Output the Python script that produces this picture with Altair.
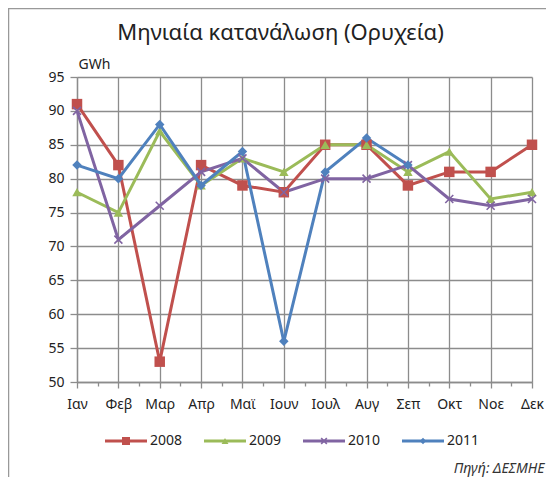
import altair as alt
import pandas as pd

months = ["Ιαν", "Φεβ", "Μαρ", "Απρ", "Μαϊ", "Ιουν", "Ιουλ", "Αυγ", "Σεπ", "Οκτ", "Νοε", "Δεκ"]
series_names = ["2008", "2009", "2010", "2011"]
v2008 = [91, 82, 53, 82, 79, 78, 85, 85, 79, 81, 81, 85]
v2009 = [78, 75, 87, 79, 83, 81, 85, 85, 81, 84, 77, 78]
v2010 = [90, 71, 76, 81, 83, 78, 80, 80, 82, 77, 76, 77]
v2011 = [82, 80, 88, 79, 84, 56, 81, 86, 82]
y_ticks = [50, 55, 60, 65, 70, 75, 80, 85, 90, 95]

colors = ["#C0504D", "#9BBB59", "#8064A2", "#4F81BD"]

rows = []
for name, vals in zip(series_names, [v2008, v2009, v2010, v2011]):
    for i, v in enumerate(vals):
        rows.append({"series": name, "idx": i, "value": v})
df = pd.DataFrame(rows)
leg_df = pd.DataFrame({"series": series_names})

FONT = "Noto Sans"
W, H = 455, 305
PL, PT = 69, 69

month_arr = "[" + ",".join("'" + m + "'" for m in months) + "]"
x_axis = alt.Axis(
    values=[i / 2 for i in range(23)],
    labelExpr="datum.value % 1 === 0 ? " + month_arr + "[datum.value] : ''",
    labelOverlap=False,
    labelFlush=False,
    grid=True,
    gridColor="#8c8c8c",
    gridWidth=1.3,
    gridOpacity={"condition": {"test": "datum.value % 1 === 0", "value": 1}, "value": 0},
    tickSize={"condition": {"test": "datum.value % 1 === 0", "value": 6}, "value": 4},
    tickColor="#8c8c8c",
    tickWidth=1.3,
    domainColor="#8c8c8c",
    domainWidth=1.3,
    labelFont=FONT,
    labelFontSize=14,
    labelColor="#222",
    labelPadding=9,
    title="Πηγή: ΔΕΣΜΗΕ",
    titleFont=FONT,
    titleFontSize=14,
    titleFontStyle="italic",
    titleFontWeight="normal",
    titleColor="#333",
    titleX=467,
    titleY=90,
    titleAlign="right",
    titleBaseline="alphabetic",
)
y_axis = alt.Axis(
    values=y_ticks,
    labelFlush=False,
    grid=True,
    gridColor="#8c8c8c",
    gridWidth=1.3,
    tickSize=7,
    tickColor="#8c8c8c",
    tickWidth=1.3,
    domainColor="#8c8c8c",
    domainWidth=1.3,
    labelFont=FONT,
    labelFontSize=14,
    labelColor="#222",
    labelPadding=6,
    title="GWh",
    titleFont=FONT,
    titleFontSize=14,
    titleFontWeight="normal",
    titleColor="#222",
    titleAngle=0,
    titleX=1,
    titleY=-9,
    titleAlign="left",
    titleBaseline="alphabetic",
)

x_scale = alt.Scale(domain=[0, 11], nice=False, zero=False)
y_scale = alt.Scale(domain=[50, 95], nice=False, zero=False)


def X():
    return alt.X("idx:Q", scale=x_scale, axis=x_axis)


def Y():
    return alt.Y("value:Q", scale=y_scale, axis=y_axis)


color_enc = alt.Color("series:N", scale=alt.Scale(domain=series_names, range=colors), legend=None)

base = alt.Chart(df)

lines = base.mark_line(strokeWidth=3).encode(x=X(), y=Y(), color=color_enc)

XSHAPE = "M-0.8,-0.8L0.8,0.8M-0.8,0.8L0.8,-0.8"
marker_specs = [
    ("2008", "square", 110, True, 1),
    ("2009", "triangle-up", 90, True, 1),
    ("2010", XSHAPE, 100, False, 1.6),
    ("2011", "diamond", 90, True, 1),
]
legend_marker_sizes = [64, 48, 50, 40]

point_layers = []
for name, shape, size, filled, sw in marker_specs:
    point_layers.append(
        base.transform_filter(alt.datum.series == name)
        .mark_point(shape=shape, size=size, filled=filled, opacity=1, strokeWidth=sw)
        .encode(x=X(), y=Y(), color=color_enc)
    )

# legend row: line + marker + label for each series
leg_x = alt.X("series:N", scale=alt.Scale(type="point", domain=series_names, range=[49, 346], padding=0), axis=None)
leg_base = alt.Chart(leg_df)
leg_lines = leg_base.mark_tick(orient="horizontal", size=42, thickness=3, opacity=1).encode(
    x=leg_x, y=alt.value(364), color=color_enc
)
leg_layers = [leg_lines]
for (name, shape, size, filled, sw), lsize in zip(marker_specs, legend_marker_sizes):
    leg_layers.append(
        leg_base.transform_filter(alt.datum.series == name)
        .mark_point(shape=shape, size=lsize, filled=filled, opacity=1, strokeWidth=sw)
        .encode(x=leg_x, y=alt.value(364), color=color_enc)
    )
leg_text = leg_base.mark_text(
    align="left", baseline="middle", dx=24, font=FONT, fontSize=14, color="#222"
).encode(x=leg_x, y=alt.value(364), text="series:N")
leg_layers.append(leg_text)
legend_block = alt.layer(*leg_layers)

frame = (
    alt.Chart(pd.DataFrame({"f": [0]}))
    .mark_rect(fill="transparent", stroke="#999999", strokeWidth=1.5)
    .encode(x=alt.value(-68.5), x2=alt.value(600), y=alt.value(-68.5), y2=alt.value(600))
)

main = alt.layer(lines, *point_layers)

chart = (
    alt.layer(frame, main, legend_block)
    .resolve_scale(x="independent")
    .properties(
        width=W,
        height=H,
        padding={"left": PL, "top": PT, "right": 14, "bottom": 95},
        autosize=alt.AutoSizeParams(type="none"),
        title=alt.TitleParams(
            "Μηνιαία κατανάλωση (Ορυχεία)",
            font=FONT,
            fontSize=22,
            fontWeight="normal",
            color="#222",
            anchor="middle",
            dx=-24,
            dy=41,
        ),
        background="white",
    )
    .configure_view(stroke="transparent")
)

chart.save("out.html", embed_options={"renderer": "svg", "actions": False})
